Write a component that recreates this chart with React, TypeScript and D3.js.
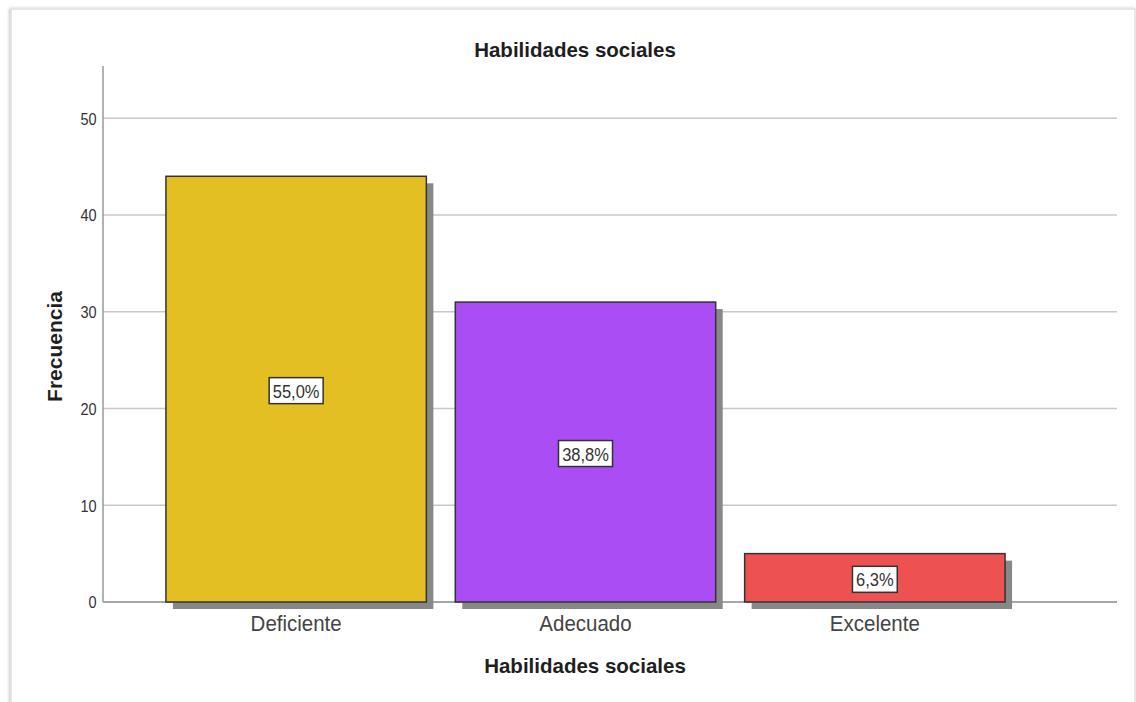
import React from "react";
import * as d3 from "d3";

const categories = ["Deficiente", "Adecuado", "Excelente"];
const frequencies = [44, 31, 5];
const percentLabels = ["55,0%", "38,8%", "6,3%"];
const colors = ["#e3bf23", "#aa4df4", "#ee5152"];
const yTicks = [0, 10, 20, 30, 40, 50];

const W = 1136;
const H = 702;
const axisX = 103;
const plotRight = 1117;
const plotTop = 66;
const baseY = 602;

function SText(props: {
  x: number;
  y: number;
  sy?: number;
  anchor?: string;
  size: number;
  weight?: string;
  fill?: string;
  rotate?: number;
  children: React.ReactNode;
}) {
  const { x, y, sy = 1, anchor = "middle", size, weight = "normal", fill = "#333", rotate = 0 } = props;
  return (
    <text
      transform={`translate(${x},${y}) rotate(${rotate}) scale(1,${sy})`}
      textAnchor={anchor}
      fontSize={size}
      fontWeight={weight}
      fill={fill}
    >
      {props.children}
    </text>
  );
}

export default function App() {
  const y = d3.scaleLinear().domain([0, 55.4]).range([baseY, plotTop]);
  const x = d3
    .scaleBand<string>()
    .domain(categories)
    .range([137, 1034])
    .paddingInner(0.1)
    .paddingOuter(0.1);
  const font = "'Liberation Sans', Arial, sans-serif";
  const shadow = 7;
  return (
    <svg
      width={W}
      height={H}
      style={{ position: "absolute", left: 0, top: 0, fontFamily: font }}
    >
      <defs>
        <filter id="fs" x="-5%" y="-5%" width="110%" height="110%">
          <feDropShadow dx="-1" dy="0" stdDeviation="1.5" floodColor="#000" floodOpacity="0.25" />
        </filter>
      </defs>
      <rect x={0} y={0} width={W} height={H} fill="#fff" />
      <rect x={11} y={9} width={1124} height={700} fill="#fff" stroke="#e2e2e2" strokeWidth={1.5} filter="url(#fs)" />
      <SText x={575} y={56.5} size={20.5} weight="bold" fill="#1e1e1e">
        Habilidades sociales
      </SText>
      {yTicks.map((t) => (
        <g key={t}>
          {t > 0 && (
            <line x1={axisX} x2={plotRight} y1={y(t)} y2={y(t)} stroke="#c8c8c8" strokeWidth={1.5} />
          )}
          <SText x={96.5} y={y(t) + 6.3} sy={1.2} anchor="end" size={14.5} fill="#333">
            {t}
          </SText>
        </g>
      ))}
      {categories.map((c, i) => {
        const bx = x(c)!;
        const bw = x.bandwidth();
        const top = y(frequencies[i]);
        return (
          <rect key={"s" + c} x={bx + shadow} y={top + shadow} width={bw} height={baseY - top} fill="#888" />
        );
      })}
      <line x1={axisX} x2={plotRight} y1={baseY} y2={baseY} stroke="#888" strokeWidth={1.5} />
      <line x1={axisX} x2={axisX} y1={plotTop} y2={baseY} stroke="#999" strokeWidth={1.5} />
      {categories.map((c, i) => {
        const bx = x(c)!;
        const bw = x.bandwidth();
        const top = y(frequencies[i]);
        const cy = y(frequencies[i] / 2) + 1.5;
        const lw = percentLabels[i].length * 9.2 + 8;
        return (
          <g key={c}>
            <rect x={bx} y={top} width={bw} height={baseY - top} fill={colors[i]} stroke="#333" strokeWidth={1.5} />
            <rect x={bx + bw / 2 - lw / 2} y={cy - 13} width={lw} height={26} fill="#fff" stroke="#333" strokeWidth={1.5} />
            <SText x={bx + bw / 2} y={cy + 7} sy={1.12} size={16.5} fill="#333">
              {percentLabels[i]}
            </SText>
            <SText x={bx + bw / 2} y={631} sy={1.12} size={20.5} fill="#444">
              {c}
            </SText>
          </g>
        );
      })}
      <SText x={585} y={673} size={20.5} weight="bold" fill="#1e1e1e">
        Habilidades sociales
      </SText>
      <SText x={61.5} y={346.5} rotate={-90} size={21} weight="bold" fill="#1e1e1e">
        Frecuencia
      </SText>
    </svg>
  );
}
